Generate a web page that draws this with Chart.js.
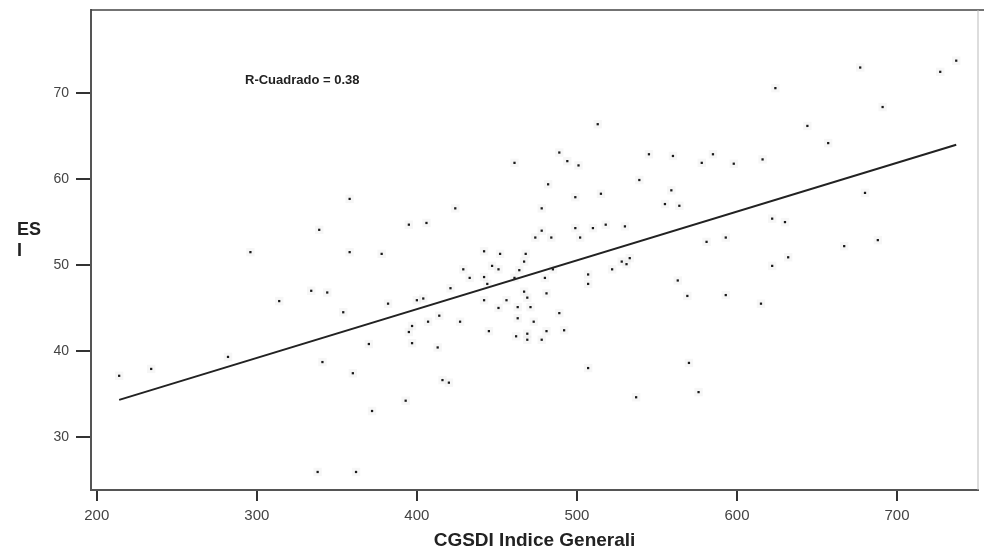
<!DOCTYPE html>
<html lang="it">
<head>
  <meta charset="UTF-8">
  <title>ESI vs CGSDI</title>
  <script src="https://cdn.jsdelivr.net/npm/chart.js"></script>
  <style>
    html, body { margin: 0; padding: 0; background: #fff; }
    #wrap { width: 984px; height: 556px; }
  </style>
</head>
<body>
  <div id="wrap">
    <canvas id="scatter" width="984" height="556"></canvas>
  </div>

<script>
  // values
  const cgsdi = [
    214, 234, 282, 296, 314, 334, 338, 339, 341, 344,
    354, 358, 358, 360, 362, 370, 372, 378, 382, 393,
    395, 395, 397, 397, 400, 404, 406, 407, 413, 414,
    416, 420, 421, 424, 427, 429, 433, 442, 442, 442,
    444, 445, 447, 451, 451, 452, 456, 461, 461, 462,
    463, 463, 464, 467, 468, 467, 469, 471, 469, 469,
    473, 474, 478, 478, 478, 480, 481, 481, 482, 484,
    485, 489, 489, 492, 494, 499, 499, 501, 502, 507,
    507, 507, 510, 513, 515, 518, 522, 528, 530, 531,
    533, 537, 539, 545, 555, 559, 560, 563, 564, 569,
    570, 576, 578, 581, 585, 593, 593, 598, 615, 616,
    622, 622, 624, 630, 632, 644, 657, 667, 677, 680,
    688, 691, 727, 737
  ];
  const esi = [
    37.1, 37.9, 39.3, 51.5, 45.8, 47.0, 25.9, 54.1, 38.7, 46.8,
    44.5, 57.7, 51.5, 37.4, 25.9, 40.8, 33.0, 51.3, 45.5, 34.2,
    54.7, 42.2, 42.9, 40.9, 45.9, 46.1, 54.9, 43.4, 40.4, 44.1,
    36.6, 36.3, 47.3, 56.6, 43.4, 49.5, 48.5, 51.6, 48.6, 45.9,
    47.8, 42.3, 49.9, 45.0, 49.5, 51.3, 45.9, 61.9, 48.5, 41.7,
    43.8, 45.1, 49.4, 50.4, 51.3, 46.9, 46.2, 45.1, 42.0, 41.3,
    43.4, 53.2, 56.6, 54.0, 41.3, 48.5, 46.7, 42.3, 59.4, 53.2,
    49.5, 63.1, 44.4, 42.4, 62.1, 57.9, 54.3, 61.6, 53.2, 48.9,
    47.8, 38.0, 54.3, 66.4, 58.3, 54.7, 49.5, 50.4, 54.5, 50.1,
    50.8, 34.6, 59.9, 62.9, 57.1, 58.7, 62.7, 48.2, 56.9, 46.4,
    38.6, 35.2, 61.9, 52.7, 62.9, 53.2, 46.5, 61.8, 45.5, 62.3,
    49.9, 55.4, 70.6, 55.0, 50.9, 66.2, 64.2, 52.2, 73.0, 58.4,
    52.9, 68.4, 72.5, 73.8
  ];
  // fit line end points
  const fitX = [214, 737];
  const fitY = [34.3, 64.0];
  const xTicks = [200, 300, 400, 500, 600, 700];
  const yTicks = [30, 40, 50, 60, 70];
  const rSquared = 'R-Cuadrado = 0.38';
  const xTitle = 'CGSDI Indice Generali';
  const yTitle = ['ES', 'I'];

  const FONT = "'Liberation Sans', Arial, sans-serif";
  const points = cgsdi.map((x, i) => ({ x: x, y: esi[i] }));
  const fitLine = fitX.map((x, i) => ({ x: x, y: fitY[i] }));

  // frame on top/right, y title and R² note
  const extras = {
    id: 'extras',
    afterDraw(chart) {
      const ctx = chart.ctx;
      const a = chart.chartArea;
      ctx.save();
      ctx.strokeStyle = '#444';
      ctx.lineWidth = 1.5;
      ctx.beginPath();
      ctx.moveTo(a.left, a.top);
      ctx.lineTo(984, a.top);
      ctx.stroke();
      ctx.strokeStyle = '#bbb';
      ctx.lineWidth = 1;
      ctx.beginPath();
      ctx.moveTo(a.right, a.top);
      ctx.lineTo(a.right, a.bottom);
      ctx.stroke();

      ctx.fillStyle = '#222';
      ctx.textAlign = 'left';
      ctx.textBaseline = 'middle';
      ctx.font = 'bold 18px ' + FONT;
      ctx.fillText(yTitle[0], 17, 230);
      ctx.fillText(yTitle[1], 17, 251);

      ctx.font = 'bold 13px ' + FONT;
      ctx.fillText(rSquared, 245, 80);
      ctx.restore();
    }
  };

  new Chart(document.getElementById('scatter').getContext('2d'), {
    type: 'scatter',
    data: {
      datasets: [
        {
          data: fitLine,
          type: 'line',
          borderColor: '#222',
          borderWidth: 2,
          pointRadius: 0,
          fill: false,
          order: 0
        },
        {
          data: points,
          pointStyle: 'rect',
          pointRadius: 1.6,
          backgroundColor: '#1a1a1a',
          borderWidth: 0,
          order: 1
        },
        {
          data: points,
          pointStyle: 'rect',
          pointRadius: 6,
          backgroundColor: 'rgba(0,0,0,0.035)',
          borderWidth: 0,
          order: 2
        }
      ]
    },
    options: {
      responsive: false,
      animation: false,
      layout: { padding: { left: 0, top: 10, right: 2, bottom: 0 } },
      plugins: {
        legend: { display: false },
        tooltip: { enabled: false }
      },
      scales: {
        x: {
          type: 'linear',
          min: 196.4,
          max: 750.6,
          afterBuildTicks: (s) => { s.ticks = xTicks.map(v => ({ value: v })); },
          afterFit: (s) => {
            s.height = 66;
            s.paddingLeft = 0;
            s.paddingRight = 0;
          },
          ticks: {
            color: '#444',
            padding: 6,
            font: { family: FONT, size: 15 }
          },
          grid: {
            drawOnChartArea: false,
            drawTicks: true,
            tickLength: 11,
            color: '#333',
            lineWidth: 2
          },
          border: { display: true, color: '#555', width: 2 },
          title: {
            display: true,
            text: xTitle,
            color: '#222',
            padding: { top: 0, bottom: 4 },
            font: { family: FONT, size: 19, weight: 'bold' }
          }
        },
        y: {
          type: 'linear',
          min: 23.8,
          max: 79.7,
          afterBuildTicks: (s) => { s.ticks = yTicks.map(v => ({ value: v })); },
          afterFit: (s) => {
            s.width = 91;
            s.paddingTop = 0;
            s.paddingBottom = 0;
          },
          ticks: {
            color: '#444',
            padding: 7,
            font: { family: FONT, size: 14 }
          },
          grid: {
            drawOnChartArea: false,
            drawTicks: true,
            tickLength: 15,
            color: '#333',
            lineWidth: 2
          },
          border: { display: true, color: '#555', width: 2 }
        }
      }
    },
    plugins: [extras]
  });
</script>
</body>
</html>
